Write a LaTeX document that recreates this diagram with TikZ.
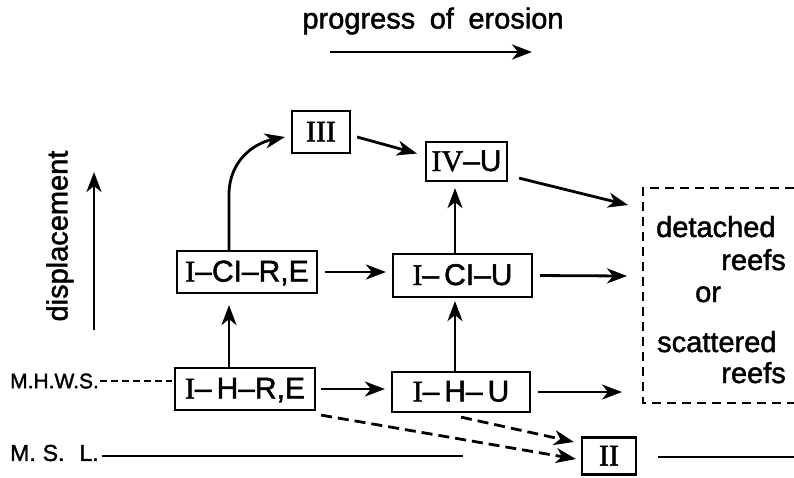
\documentclass[tikz,border=0pt]{standalone}
\usepackage{fontspec}
\setmainfont{Liberation Sans}[BoldFont={Liberation Sans}, BoldFeatures={FakeBold=1.6}]
\newfontfamily\serifrm{Liberation Serif}[BoldFont={Liberation Serif}, BoldFeatures={FakeBold=1.6}]
\usetikzlibrary{arrows.meta}
\newcommand{\romnum}[1]{{\serifrm #1}}
\begin{document}
\begin{tikzpicture}[x=1pt,y=-1pt,
  box/.style={draw, line width=2.2pt, inner sep=0pt, font=\fontsize{30}{32}\selectfont\bfseries, text height=21pt, text depth=2pt},
  arr/.style={line width=2.8pt, -{Stealth[length=20pt,width=15pt,inset=6pt]}},
  darr/.style={arr, dash pattern=on 11pt off 6pt},
  lbl/.style={inner sep=0pt, font=\fontsize{29}{32}\selectfont\bfseries},
  small/.style={inner sep=0pt, anchor=west},
  level/.style={line width=2.4pt},
]
\useasboundingbox (0,0) rectangle (794,477);

% boxes
\node[box, minimum width=58pt, minimum height=42pt] (iii) at (321,132) {\romnum{III}};
\node[box, minimum width=81pt, minimum height=39pt] (ivu) at (466.5,161.5) {\romnum{IV}--U};
\node[box, minimum width=140pt, minimum height=42pt] (icire) at (247,272) {\romnum{I}--CI--R,E};
\node[box, minimum width=139pt, minimum height=43pt] (iciu) at (462.5,275.5) {\romnum{I}--\,CI--U};
\node[box, minimum width=140pt, minimum height=42pt] (ihre) at (245,389) {\romnum{I}--\,H--R,E};
\node[box, minimum width=138pt, minimum height=40pt] (ihu) at (461,392) {\romnum{I}--\,H--\,U};
\node[box, minimum width=54pt, minimum height=37pt] (ii) at (609,456) {\romnum{II}};

% detached / scattered reefs region
\draw[line width=2.2pt, dash pattern=on 9pt off 6pt] (794,188) -- (643,188) -- (643,403) -- (794,403);
\node[lbl, anchor=base west] (t1) at (656,237) {detached};
\node[lbl, anchor=base east] (t2) at (786,270) {reefs};
\node[lbl, anchor=base west] (t3) at (695,302) {or};
\node[lbl, anchor=base west] (t4) at (657,352) {scattered};
\node[lbl, anchor=base east] (t5) at (786,383) {reefs};
\coordinate (d1) at (628,205);
\coordinate (d2) at (627,276);
\coordinate (d3) at (622,392);

% top label
\node[lbl] (prog) at (433,21) {progress\hspace{0.5em}of\hspace{0.5em}erosion};
\coordinate (pa) at (330,52);
\coordinate (pb) at (532,52);
\draw[arr] (pa) -- (pb);

% displacement
\node[lbl, rotate=90] (disp) at (60,236) {displacement};
\coordinate (da) at (94,330);
\coordinate (db) at (94,172);
\draw[arr] (da) -- (db);

% levels
\node[small, font=\fontsize{21}{24}\selectfont\bfseries] (mhws) at (10,381) {M.H.W.S.};
\draw[line width=1.8pt, dash pattern=on 7pt off 4pt, shorten <=1pt, shorten >=2pt] (mhws.east) -- (mhws.east -| ihre.west);
\node[small, font=\fontsize{23}{26}\selectfont\bfseries] (msl) at (10,453) {M.\hspace{7pt}S.\hspace{15pt}L.};
\coordinate (msle) at (463,456);
\coordinate (msrs) at (658,457);
\coordinate (msre) at (794,457);
\draw[level] ([xshift=3pt]msl.east |- msle) -- (msle);
\draw[level] (msrs) -- (msre);

% connectors
\draw[arr, shorten <=5pt, shorten >=6pt] (ihre.east) -- (ihre.east -| ihu.west);
\draw[arr, shorten <=7pt, shorten >=6pt] (icire.east) -- (icire.east -| iciu.west);
\draw[arr, shorten >=11pt] ([xshift=-16pt]ihre.north) -- ([xshift=-16pt]ihre.north |- icire.south);
\draw[arr] ([xshift=-18pt]icire.north) -- ++(0,-55) .. controls +(0,-35) and +(-30,6) .. ([shift={(-6,5)}]iii.west);
\draw[arr] ([shift={(6,5)}]iii.east) -- ([shift={(-8,-8)}]ivu.west);
\draw[arr, shorten >=3pt] ([xshift=-6pt]ihu.north) -- ([xshift=-6pt]ihu.north |- iciu.south);
\draw[arr, shorten >=6pt] ([xshift=-7.5pt]iciu.north) -- ([xshift=-7.5pt]iciu.north |- ivu.south);
\draw[arr] ([shift={(11,-4)}]ivu.south east) -- (d1);
\draw[arr, shorten <=7pt] (iciu.east) -- (d2);
\draw[arr, shorten <=7pt] (ihu.east) -- (d3);
\draw[darr] ([shift={(5,4)}]ihre.south east) -- ([shift={(-5,3)}]ii.west);
\draw[darr] ([shift={(0,4)}]ihu.south) -- ([shift={(-7,-14)}]ii.west);
\end{tikzpicture}
\end{document}
